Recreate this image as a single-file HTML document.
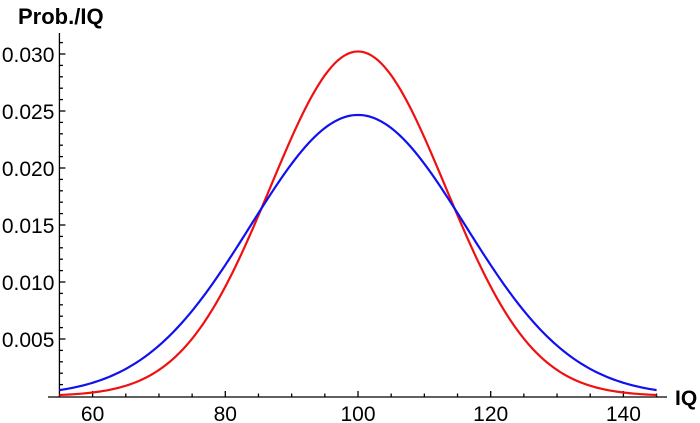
<!DOCTYPE html>
<html><head><meta charset="utf-8"><style>
body{margin:0;background:#fff;}
svg{display:block;font-family:"Liberation Sans",sans-serif;}
</style></head><body>
<svg id="s" width="700" height="423" xmlns="http://www.w3.org/2000/svg">
<g id="ax" stroke="#000" stroke-width="1.3" fill="none"></g>
<path id="red" fill="none" stroke="#f01010" stroke-width="2.2"/>
<path id="blue" fill="none" stroke="#1010f0" stroke-width="2.2"/>
<g font-size="21" fill="#000">
<text x="18" y="24" font-weight="bold" font-size="22">Prob./IQ</text>
<text x="675" y="405" font-weight="bold" font-size="21">IQ</text>
<g id="lab"></g>
</g>
</svg>
<script>
var X=function(v){return 358+(v-100)*6.635;};
var Y=function(p){return 396-p*11400;};
var ns="http://www.w3.org/2000/svg";
var ax=document.getElementById('ax'),lab=document.getElementById('lab');
function line(x1,y1,x2,y2){var l=document.createElementNS(ns,'line');l.setAttribute('x1',x1);l.setAttribute('y1',y1);l.setAttribute('x2',x2);l.setAttribute('y2',y2);ax.appendChild(l);}
function text(x,y,t,a){var e=document.createElementNS(ns,'text');e.setAttribute('x',x);e.setAttribute('y',y);e.setAttribute('text-anchor',a);e.textContent=t;lab.appendChild(e);}
var x0=X(55);
line(x0,33,x0,397);
line(48,397,667,397);
for(var i=1;i<=31;i++){var y=Y(i*0.001);var maj=i%5==0;line(x0,y,x0+(maj?6:3.5),y);if(maj)text(x0-5,y+8,(i*0.001).toFixed(3),'end');}
for(var v=60;v<=145;v+=5){var x=X(v);var maj=v%20==0;line(x,397,x,397-(maj?6:3.5));if(maj)text(x,421,String(v),'middle');}
function g(s){var d='';for(var v=55;v<=145.001;v+=0.5){var p=Math.exp(-Math.pow((v-100)/s,2)/2)/(s*Math.sqrt(2*Math.PI));d+=(d?'L':'M')+X(v).toFixed(2)+','+Y(p).toFixed(2);}return d;}
document.getElementById('red').setAttribute('d',g(13.2));
document.getElementById('blue').setAttribute('d',g(16.18));
</script>
</body></html>
